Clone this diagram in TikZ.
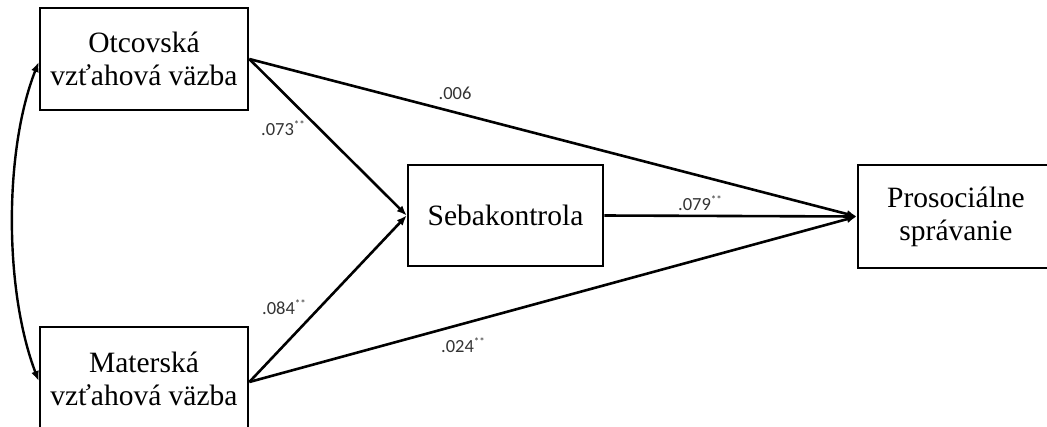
\documentclass[tikz,border=0pt]{standalone}
\usepackage{fontspec}
\setmainfont{Liberation Serif}
\newfontfamily\lblfont{Carlito}
\usetikzlibrary{arrows.meta}
\newcommand{\sigstars}{\raisebox{0.35em}{\fontsize{11}{12}\selectfont **}}
\tikzset{
  box/.style={draw, line width=2.6pt, rectangle, align=center, inner sep=0pt,
    font=\fontsize{29.5}{33}\selectfont},
  conn/.style={line width=2.6pt, -{Latex[length=10pt,width=8pt]}},
  lbl/.style={font=\lblfont\fontsize{18.5}{20}\selectfont, text=black!80, inner sep=0pt},
}
\begin{document}
\begin{tikzpicture}[x=1pt,y=-1pt]
\useasboundingbox (0,0) rectangle (1047,426);
\clip (0,0) rectangle (1047,426);
\node[box, minimum width=208pt, minimum height=102pt] (top) at (144,59) {Otcovská\\vzťahová väzba};
\node[box, minimum width=208pt, minimum height=104pt] (bot) at (144,379) {Materská\\vzťahová väzba};
\node[box, minimum width=195pt, minimum height=101pt] (seb) at (505.5,215.5) {Sebakontrola};
\node[box, minimum width=196pt, minimum height=103pt] (pro) at (956,216.5) {Prosociálne\\správanie};

\draw[conn] (top.east) -- (seb.west);
\draw[conn] ([yshift=-3pt]bot.east) -- (seb.west);
\draw[conn] (top.east) -- (pro.west);
\draw[conn] ([yshift=-3pt]bot.east) -- (pro.west);
\draw[conn] (seb.east) -- (pro.west);
\draw[line width=2.4pt, {Latex[length=10pt,width=8pt]}-{Latex[length=10pt,width=8pt]}]
  ([yshift=-3pt]top.west) .. controls (4,150) and (4,290) .. ([yshift=-2pt]bot.west);

\node[lbl] (l1) at (455,93) {.006};
\node[lbl] (l2) at (283,128) {.073\sigstars};
\node[lbl] (l3) at (700,203) {.079\sigstars};
\node[lbl] (l4) at (284,307) {.084\sigstars};
\node[lbl] (l5) at (463,345) {.024\sigstars};
\end{tikzpicture}
\end{document}
